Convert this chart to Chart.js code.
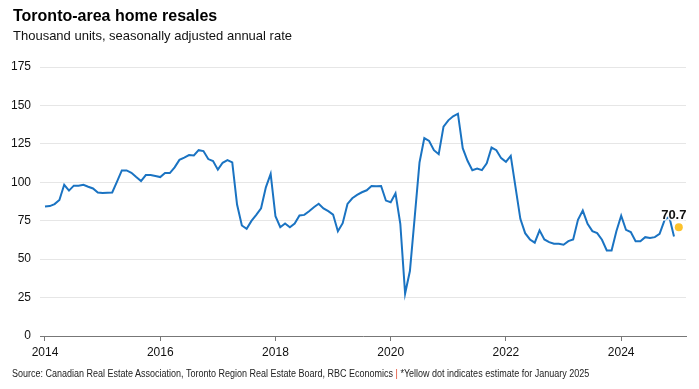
<!DOCTYPE html>
<html>
<head>
<meta charset="utf-8">
<script src="https://cdn.jsdelivr.net/npm/chart.js@4.4.1/dist/chart.umd.min.js"></script>
<style>
  body { margin: 0; background: #fff; font-family: "Liberation Sans", Arial, sans-serif; }
  #wrap { position: relative; width: 699px; height: 389px; overflow: hidden; }
  #chart { position: absolute; left: 0; top: 0; }
  .title { position: absolute; left: 13px; top: 7px; font-size: 16px; font-weight: bold; color: #000; }
  .subtitle { position: absolute; left: 13px; top: 28px; font-size: 13px; color: #111; }
  .source { position: absolute; left: 12px; top: 368px; font-size: 10px; color: #222; white-space: nowrap;
            transform: scaleX(0.9); transform-origin: left top; }
  .source span { color: #e0452b; }
</style>
</head>
<body>
<div id="wrap">
  <canvas id="chart" width="699" height="389"></canvas>
  <div class="title">Toronto-area home resales</div>
  <div class="subtitle">Thousand units, seasonally adjusted annual rate</div>
  <div class="source">Source: Canadian Real Estate Association, Toronto Region Real Estate Board, RBC Economics <span>|</span> *Yellow dot indicates estimate for January 2025</div>
</div>
<script>
// monthly series, Jan 2014 .. Dec 2024
var startYear = 2014;
var yearTicks = [2014, 2016, 2018, 2020, 2022, 2024];
var yTicks = [0, 25, 50, 75, 100, 125, 150, 175];

var resales = [
  84.2, 84.5, 85.8, 88.5, 98.4, 94.6, 97.8, 97.8, 98.4, 97.1, 96.0, 93.4, // 2014
  93.0, 93.2, 93.4, 100.4, 107.7, 107.7, 106.2, 103.4, 100.8, 104.7, 104.7, 104.1, // 2015
  103.4, 106.0, 106.0, 109.7, 114.6, 116.1, 117.7, 117.5, 120.9, 120.3, 115.1, 113.8, // 2016
  108.2, 112.7, 114.4, 112.9, 85.5, 71.9, 69.7, 74.9, 78.8, 83.1, 96.7, 105.4, // 2017
  77.9, 70.8, 73.2, 70.8, 73.2, 78.4, 78.8, 81.2, 83.8, 86.0, 83.0, 81.2, // 2018
  79.0, 68.2, 73.4, 85.9, 89.6, 91.8, 93.5, 94.8, 97.6, 97.4, 97.6, 88.1, // 2019
  87.0, 92.8, 73.0, 27.6, 42.3, 77.3, 112.9, 128.7, 126.9, 120.9, 118.3, 136.2, // 2020
  140.3, 142.9, 144.6, 122.2, 114.0, 107.9, 109.0, 107.9, 112.3, 122.6, 120.9, 115.7, // 2021
  113.3, 117.2, 96.7, 76.2, 66.9, 62.8, 60.7, 68.7, 62.8, 61.1, 60.0, 60.0, // 2022
  59.4, 61.7, 62.8, 75.6, 81.6, 73.0, 68.2, 66.9, 62.6, 55.7, 55.7, 68.2, // 2023
  78.2, 69.1, 67.6, 61.7, 61.7, 64.3, 63.7, 64.3, 66.4, 75.1, 77.7, 64.8  // 2024
];

// January 2025 estimate (yellow dot)
var estimateMonth = 132;
var estimateValue = 70.7;

var linePoints = resales.map(function (v, i) { return { x: i, y: v }; });

// text label next to the estimate dot
var estimateLabel = {
  id: "estimateLabel",
  afterDatasetsDraw: function (chart) {
    var pt = chart.getDatasetMeta(1).data[0];
    if (!pt) return;
    var ctx = chart.ctx;
    ctx.save();
    ctx.font = "bold 13px 'Liberation Sans', Arial, sans-serif";
    ctx.textAlign = "center";
    ctx.textBaseline = "middle";
    ctx.lineWidth = 3;
    ctx.strokeStyle = "rgba(255,255,255,0.9)";
    ctx.strokeText(estimateValue.toFixed(1), pt.x - 5, pt.y - 12);
    ctx.fillStyle = "#111";
    ctx.fillText(estimateValue.toFixed(1), pt.x - 5, pt.y - 12);
    ctx.restore();
  }
};

new Chart(document.getElementById("chart"), {
  type: "line",
  data: {
    datasets: [
      {
        label: "Home resales",
        data: linePoints,
        borderColor: "#1a73c2",
        borderWidth: 2,
        pointRadius: 0,
        tension: 0,
        fill: false
      },
      {
        label: "Estimate",
        data: [{ x: estimateMonth, y: estimateValue }],
        showLine: false,
        pointRadius: 4,
        pointBackgroundColor: "#fcc22c",
        pointBorderWidth: 0
      }
    ]
  },
  options: {
    responsive: false,
    animation: false,
    layout: { padding: { top: 67, right: 13, left: 0, bottom: 0 } },
    plugins: { legend: { display: false }, tooltip: { enabled: false } },
    scales: {
      x: {
        type: "linear",
        min: -1.04,
        max: 133.5,
        afterBuildTicks: function (s) {
          s.ticks = yearTicks.map(function (y) { return { value: (y - startYear) * 12 }; });
        },
        afterFit: function (s) { s.height = 53; },
        ticks: {
          callback: function (v) { return String(startYear + v / 12); },
          font: { size: 12, family: "'Liberation Sans', Arial, sans-serif" },
          color: "#111",
          padding: 4,
          maxRotation: 0
        },
        grid: { drawOnChartArea: false, drawTicks: true, tickLength: 5, color: "#777" },
        border: { display: true, color: "#777", width: 1 }
      },
      y: {
        min: 0,
        max: 175,
        afterBuildTicks: function (s) {
          s.ticks = yTicks.map(function (v) { return { value: v }; });
        },
        afterFit: function (s) { s.width = 40; },
        ticks: {
          font: { size: 12, family: "'Liberation Sans', Arial, sans-serif" },
          color: "#111",
          padding: 9
        },
        grid: { color: "#e6e6e6", lineWidth: 1, drawTicks: false },
        border: { display: false }
      }
    }
  },
  plugins: [estimateLabel]
});
</script>
</body>
</html>
